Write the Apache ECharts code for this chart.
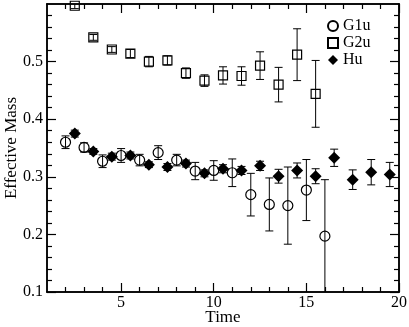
<!DOCTYPE html>
<html>
<head>
<meta charset="utf-8">
<script src="https://cdn.jsdelivr.net/npm/echarts@6/dist/echarts.min.js"></script>
<style>
  html, body { margin: 0; padding: 0; background: #fff; }
  #chart { width: 409px; height: 327px; }
</style>
</head>
<body>
<div id="chart"></div>
<script>
// G1u (open circles)
const g1uTime = [2, 3, 4, 5, 6, 7, 8, 9, 10, 11, 12, 13, 14, 15, 16]
const g1uMass = [0.360, 0.351, 0.327, 0.337, 0.329, 0.342, 0.329, 0.310, 0.311, 0.307, 0.269, 0.252, 0.250, 0.277, 0.197]
const g1uErr = [0.011, 0.008, 0.011, 0.012, 0.010, 0.012, 0.010, 0.015, 0.017, 0.024, 0.037, 0.046, 0.067, 0.053, 0.098]

// G2u (open squares)
const g2uTime = [2.5, 3.5, 4.5, 5.5, 6.5, 7.5, 8.5, 9.5, 10.5, 11.5, 12.5, 13.5, 14.5, 15.5]
const g2uMass = [0.597, 0.542, 0.521, 0.514, 0.500, 0.502, 0.480, 0.467, 0.476, 0.475, 0.493, 0.460, 0.512, 0.444]
const g2uErr = [0.005, 0.005, 0.005, 0.007, 0.009, 0.008, 0.009, 0.010, 0.015, 0.016, 0.024, 0.030, 0.045, 0.058]

// Hu (filled diamonds)
const huTime = [2.5, 3.5, 4.5, 5.5, 6.5, 7.5, 8.5, 9.5, 10.5, 11.5, 12.5, 13.5, 14.5, 15.5, 16.5, 17.5, 18.5, 19.5]
const huMass = [0.375, 0.344, 0.335, 0.337, 0.321, 0.317, 0.323, 0.306, 0.314, 0.311, 0.319, 0.301, 0.311, 0.301, 0.333, 0.295, 0.308, 0.304]
const huErr = [0.006, 0.005, 0.006, 0.006, 0.005, 0.006, 0.006, 0.006, 0.007, 0.007, 0.008, 0.012, 0.013, 0.013, 0.015, 0.017, 0.022, 0.021]

// axis ticks
const xMajor = [5, 10, 15, 20]
const xMinor = [2, 3, 4, 6, 7, 8, 9, 11, 12, 13, 14, 16, 17, 18, 19]
const yMajor = [0.1, 0.2, 0.3, 0.4, 0.5]
const yMinor = [0.12, 0.14, 0.16, 0.18, 0.22, 0.24, 0.26, 0.28, 0.32, 0.34, 0.36, 0.38,
  0.42, 0.44, 0.46, 0.48, 0.52, 0.54, 0.56, 0.58]

const X_MIN = 1, X_MAX = 20, Y_MIN = 0.1, Y_MAX = 0.6
const font = 'Liberation Serif'

const chart = echarts.init(document.getElementById('chart'), null, { renderer: 'canvas' })

function zip(t, m, e) {
  return t.map((x, i) => [x, m[i], e[i]])
}

function errorBars(data) {
  return {
    type: 'custom',
    xAxisIndex: 0,
    yAxisIndex: 0,
    silent: true,
    z: 1,
    data: data,
    renderItem: function (params, api) {
      const x = api.value(0)
      const y = api.value(1)
      const e = api.value(2)
      const lo = Math.max(y - e, Y_MIN)
      const hi = Math.min(y + e, Y_MAX)
      const p1 = api.coord([x, lo])
      const p2 = api.coord([x, hi])
      const w = 4
      const style = { stroke: '#000', lineWidth: 1 }
      const children = [{
        type: 'line', shape: { x1: p1[0], y1: p1[1], x2: p2[0], y2: p2[1] }, style: style
      }]
      if (y - e > Y_MIN) {
        children.push({ type: 'line', shape: { x1: p1[0] - w, y1: p1[1], x2: p1[0] + w, y2: p1[1] }, style: style })
      }
      if (y + e < Y_MAX) {
        children.push({ type: 'line', shape: { x1: p2[0] - w, y1: p2[1], x2: p2[0] + w, y2: p2[1] }, style: style })
      }
      return { type: 'group', children: children }
    }
  }
}

function xAxisDef(pos, ticks, len, labels) {
  return {
    type: 'value', position: pos, min: X_MIN, max: X_MAX,
    axisLine: { show: true, onZero: false, lineStyle: { color: '#000', width: 1.5 } },
    axisTick: { show: true, inside: true, length: len, customValues: ticks, lineStyle: { color: '#000', width: 1.2 } },
    axisLabel: labels ? { show: true, customValues: ticks, margin: 3, color: '#000', fontFamily: font, fontSize: 16 } : { show: false },
    splitLine: { show: false }
  }
}

function yAxisDef(pos, ticks, len, labels) {
  return {
    type: 'value', position: pos, min: Y_MIN, max: Y_MAX,
    axisLine: { show: true, onZero: false, lineStyle: { color: '#000', width: 1.5 } },
    axisTick: { show: true, inside: true, length: len, customValues: ticks, lineStyle: { color: '#000', width: 1.2 } },
    axisLabel: labels ? { show: true, customValues: ticks, margin: 4, color: '#000', fontFamily: font, fontSize: 16 } : { show: false },
    splitLine: { show: false }
  }
}

const xMain = xAxisDef('bottom', xMajor, 9, true)
xMain.name = 'Time'
xMain.nameLocation = 'middle'
xMain.nameGap = 17
xMain.nameMoveOverlap = false
xMain.nameTextStyle = { color: '#000', fontFamily: font, fontSize: 17 }

const yMain = yAxisDef('left', yMajor, 9, true)
yMain.name = 'Effective Mass'
yMain.nameLocation = 'middle'
yMain.nameGap = 27
yMain.nameMoveOverlap = false
yMain.nameTextStyle = { color: '#000', fontFamily: font, fontSize: 17 }

chart.setOption({
  animation: false,
  backgroundColor: '#fff',
  grid: { left: 47, right: 10, top: 4, bottom: 35, containLabel: false, outerBoundsMode: 'none' },
  legend: {
    orient: 'vertical',
    left: 322,
    top: 13,
    itemGap: 1,
    itemWidth: 10,
    itemHeight: 10,
    textStyle: { color: '#000', fontFamily: font, fontSize: 16 },
    data: ['G1u', 'G2u', 'Hu']
  },
  xAxis: [
    xMain,
    xAxisDef('bottom', xMinor, 5, false),
    xAxisDef('top', xMajor, 9, false),
    xAxisDef('top', xMinor, 5, false)
  ],
  yAxis: [
    yMain,
    yAxisDef('left', yMinor, 5, false),
    yAxisDef('right', yMajor, 9, false),
    yAxisDef('right', yMinor, 5, false)
  ],
  series: [
    errorBars(zip(g1uTime, g1uMass, g1uErr)),
    errorBars(zip(g2uTime, g2uMass, g2uErr)),
    errorBars(zip(huTime, huMass, huErr)),
    {
      name: 'G1u', type: 'scatter', z: 3,
      symbol: 'circle', symbolSize: 10,
      itemStyle: { color: 'rgba(255,255,255,0)', borderColor: '#000', borderWidth: 1.2, opacity: 1 },
      data: g1uTime.map((x, i) => [x, g1uMass[i]])
    },
    {
      name: 'G2u', type: 'scatter', z: 3,
      symbol: 'rect', symbolSize: 9,
      itemStyle: { color: 'rgba(255,255,255,0)', borderColor: '#000', borderWidth: 1.2, opacity: 1 },
      data: g2uTime.map((x, i) => [x, g2uMass[i]])
    },
    {
      name: 'Hu', type: 'scatter', z: 3,
      symbol: 'diamond', symbolSize: 12,
      itemStyle: { color: '#000', opacity: 1 },
      data: huTime.map((x, i) => [x, huMass[i]])
    }
  ]
})
</script>
</body>
</html>
